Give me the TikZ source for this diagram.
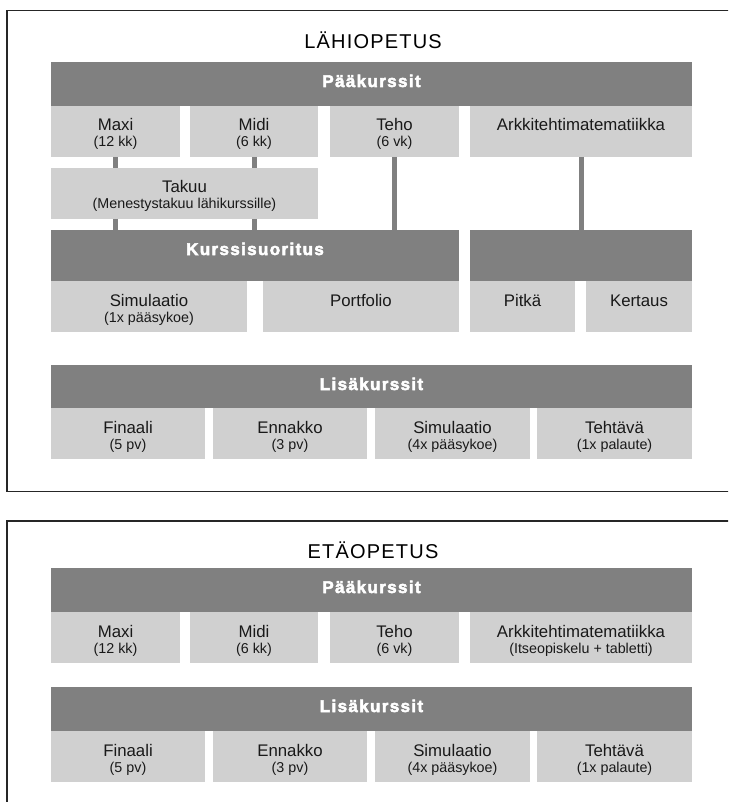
\documentclass[tikz,border=0pt]{standalone}
\usepackage{fontspec}
\setmainfont{Liberation Sans}
\newfontfamily\hdrfont{Liberation Sans}[LetterSpace=8,BoldFeatures={FakeBold=3}]
\newfontfamily\ttlfont{Liberation Sans}[LetterSpace=6]
\definecolor{dgray}{RGB}{128,128,128}
\definecolor{lgray}{RGB}{208,208,208}
\definecolor{txt}{RGB}{25,25,25}
\newcommand\bx[6]{\node[#2, minimum width={#5-#3}, minimum height={#6-#4}] (#1) at (#3,#4) {};}
\begin{document}
\begin{tikzpicture}[x=1pt,y=-1pt,
  dbar/.style={fill=dgray, draw=none, inner sep=0, outer sep=0, anchor=north west},
  lbox/.style={fill=lgray, draw=none, inner sep=0, outer sep=0, anchor=north west},
  conn/.style={draw=dgray, line width=5pt},
  frame/.style={draw=black!85, line width=1.5pt},
  ta/.style={font=\fontsize{16.8}{18}\selectfont, text=txt, anchor=base, inner sep=0, yshift=-25pt},
  tb/.style={font=\fontsize{14.3}{16}\selectfont, text=txt, anchor=base, inner sep=0, yshift=-41pt},
  hd/.style={font=\hdrfont\bfseries\fontsize{17}{18}\selectfont, text=white, anchor=base, inner sep=0, yshift=-25pt},
  ttl/.style={font=\ttlfont\fontsize{20}{22}\selectfont, text=black, anchor=base, inner sep=0}]
\useasboundingbox (0,0) rectangle (728,802);
\clip (0,0) rectangle (728,802);
% frames
\draw[frame] (7,10.5) rectangle (760,491.5);
\draw[frame] (7,521) rectangle (760,830);

% ===== LÄHIOPETUS =====
\node[ttl] (title1) at (373,49) {LÄHIOPETUS};
\bx{pk1}{dbar}{51}{62}{692}{106}
\node[hd] (pk1-t) at (pk1.north) {Pääkurssit};
\bx{maxi1}{lbox}{51}{106}{180}{157}
\bx{midi1}{lbox}{190}{106}{318}{157}
\bx{teho1}{lbox}{330}{106}{459}{157}
\bx{arkki1}{lbox}{470}{106}{692}{157}
\node[ta] (maxi1-a) at (maxi1.north) {Maxi};
\node[tb] (maxi1-b) at (maxi1.north) {(12 kk)};
\node[ta] (midi1-a) at (midi1.north) {Midi};
\node[tb] (midi1-b) at (midi1.north) {(6 kk)};
\node[ta] (teho1-a) at (teho1.north) {Teho};
\node[tb] (teho1-b) at (teho1.north) {(6 vk)};
\node[ta] (arkki1-a) at (arkki1.north) {Arkkitehtimatematiikka};

\bx{takuu}{lbox}{51}{168}{318}{219}
\node[ta] (takuu-a) at (takuu.north) {Takuu};
\node[tb] (takuu-b) at (takuu.north) {(Menestystakuu lähikurssille)};

\bx{kurs}{dbar}{51}{230}{459}{281}
\node[hd] (kurs-t) at (kurs.north) {Kurssisuoritus};
\bx{rbar}{dbar}{470}{230}{692}{281}

\bx{sim1}{lbox}{51}{281}{247}{332}
\bx{port}{lbox}{263}{281}{459}{332}
\bx{pitka}{lbox}{470}{281}{575}{332}
\bx{kert}{lbox}{586}{281}{692}{332}
\node[ta] (sim1-a) at (sim1.north) {Simulaatio};
\node[tb] (sim1-b) at (sim1.north) {(1x pääsykoe)};
\node[ta] (port-a) at (port.north) {Portfolio};
\node[ta] (pitka-a) at (pitka.north) {Pitkä};
\node[ta] (kert-a) at (kert.north) {Kertaus};

% connectors
\draw[conn] (maxi1.south) -- (maxi1.south |- takuu.north);
\draw[conn] (midi1.south) -- (midi1.south |- takuu.north);
\draw[conn] (takuu.south -| maxi1.south) -- (maxi1.south |- kurs.north);
\draw[conn] (takuu.south -| midi1.south) -- (midi1.south |- kurs.north);
\draw[conn] (teho1.south) -- (teho1.south |- kurs.north);
\draw[conn] (arkki1.south) -- (arkki1.south |- rbar.north);

\bx{lisa1}{dbar}{51}{365}{692}{408}
\node[hd] (lisa1-t) at (lisa1.north) {Lisäkurssit};
\bx{fin1}{lbox}{51}{408}{205}{459}
\bx{enn1}{lbox}{213}{408}{367}{459}
\bx{simb1}{lbox}{375}{408}{530}{459}
\bx{teht1}{lbox}{537}{408}{692}{459}
\node[ta] (fin1-a) at (fin1.north) {Finaali};
\node[tb] (fin1-b) at (fin1.north) {(5 pv)};
\node[ta] (enn1-a) at (enn1.north) {Ennakko};
\node[tb] (enn1-b) at (enn1.north) {(3 pv)};
\node[ta] (simb1-a) at (simb1.north) {Simulaatio};
\node[tb] (simb1-b) at (simb1.north) {(4x pääsykoe)};
\node[ta] (teht1-a) at (teht1.north) {Tehtävä};
\node[tb] (teht1-b) at (teht1.north) {(1x palaute)};

% ===== ETÄOPETUS =====
\node[ttl] (title2) at (373,558.5) {ETÄOPETUS};
\bx{pk2}{dbar}{51}{568}{692}{612}
\node[hd] (pk2-t) at (pk2.north) {Pääkurssit};
\bx{maxi2}{lbox}{51}{612}{180}{663}
\bx{midi2}{lbox}{190}{612}{318}{663}
\bx{teho2}{lbox}{330}{612}{459}{663}
\bx{arkki2}{lbox}{470}{612}{692}{663}
\node[ta] (maxi2-a) at (maxi2.north) {Maxi};
\node[tb] (maxi2-b) at (maxi2.north) {(12 kk)};
\node[ta] (midi2-a) at (midi2.north) {Midi};
\node[tb] (midi2-b) at (midi2.north) {(6 kk)};
\node[ta] (teho2-a) at (teho2.north) {Teho};
\node[tb] (teho2-b) at (teho2.north) {(6 vk)};
\node[ta] (arkki2-a) at (arkki2.north) {Arkkitehtimatematiikka};
\node[tb] (arkki2-b) at (arkki2.north) {(Itseopiskelu + tabletti)};

\bx{lisa2}{dbar}{51}{687}{692}{731}
\node[hd] (lisa2-t) at (lisa2.north) {Lisäkurssit};
\bx{fin2}{lbox}{51}{731}{205}{782}
\bx{enn2}{lbox}{213}{731}{367}{782}
\bx{simb2}{lbox}{375}{731}{530}{782}
\bx{teht2}{lbox}{537}{731}{692}{782}
\node[ta] (fin2-a) at (fin2.north) {Finaali};
\node[tb] (fin2-b) at (fin2.north) {(5 pv)};
\node[ta] (enn2-a) at (enn2.north) {Ennakko};
\node[tb] (enn2-b) at (enn2.north) {(3 pv)};
\node[ta] (simb2-a) at (simb2.north) {Simulaatio};
\node[tb] (simb2-b) at (simb2.north) {(4x pääsykoe)};
\node[ta] (teht2-a) at (teht2.north) {Tehtävä};
\node[tb] (teht2-b) at (teht2.north) {(1x palaute)};
\end{tikzpicture}
\end{document}
